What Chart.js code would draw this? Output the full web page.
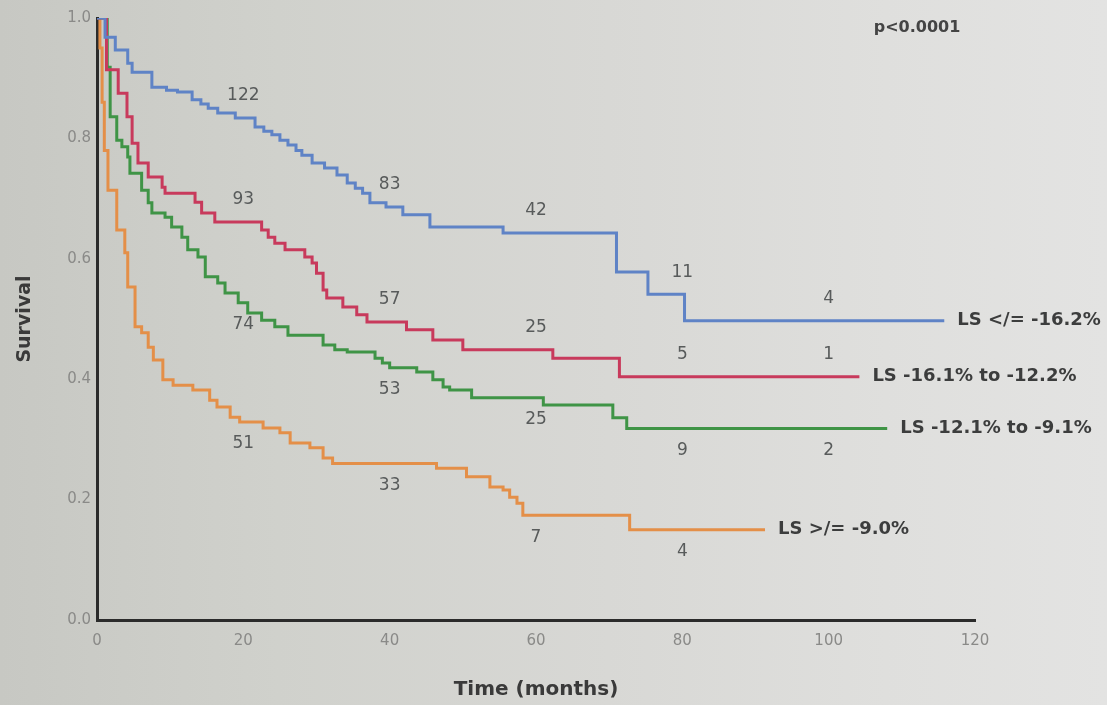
<!DOCTYPE html>
<html>
<head>
<meta charset="utf-8">
<title>Survival by LS group</title>
<script src="https://cdn.jsdelivr.net/npm/chart.js@4/dist/chart.umd.min.js"></script>
<style>
  html, body { margin: 0; padding: 0; }
  body {
    width: 1107px; height: 705px; overflow: hidden;
    background: linear-gradient(90deg, #c7c8c3 0%, #d0d1cc 25%, #d8d8d5 55%, #dfdfdd 80%, #e3e3e2 100%);
  }
  #wrap { position: relative; width: 1107px; height: 705px; }
  canvas { display: block; }
</style>
</head>
<body>
<div id="wrap"><canvas id="km" width="1107" height="705"></canvas></div>
<script>
// Kaplan-Meier step points: time (months) at which survival drops, and the new survival value.
const blueTimes = [0, 1.1, 2.5, 4.2, 4.8, 7.5, 9.5, 11, 13, 14.2, 15.2, 16.5, 18.9, 21.6, 22.8, 23.9, 25, 26.1, 27.2, 28, 29.4, 31.1, 32.8, 34.2, 35.3, 36.3, 37.3, 39.5, 41.8, 45.5, 55.5, 71, 75.3, 80.3, 115.8];
const blueSurv  = [1.0, 0.968, 0.947, 0.925, 0.91, 0.885, 0.88, 0.877, 0.864, 0.857, 0.85, 0.842, 0.834, 0.819, 0.812, 0.806, 0.797, 0.789, 0.78, 0.772, 0.759, 0.751, 0.739, 0.726, 0.717, 0.709, 0.693, 0.686, 0.673, 0.653, 0.643, 0.578, 0.541, 0.497, 0.497];

const redTimes = [0, 1.3, 2.9, 4.1, 4.8, 5.6, 7, 8.9, 9.3, 13.4, 14.3, 16.1, 22.5, 23.4, 24.3, 25.7, 28.4, 29.4, 30, 30.9, 31.4, 33.6, 35.5, 36.9, 42.3, 45.9, 50, 62.3, 71.4, 104.2];
const redSurv  = [1.0, 0.914, 0.875, 0.836, 0.792, 0.759, 0.736, 0.719, 0.709, 0.694, 0.676, 0.661, 0.648, 0.636, 0.626, 0.615, 0.603, 0.593, 0.576, 0.548, 0.535, 0.52, 0.507, 0.495, 0.482, 0.465, 0.449, 0.435, 0.404, 0.404];

const greenTimes = [0, 1.4, 1.8, 2.7, 3.4, 4.2, 4.5, 6.1, 7, 7.5, 9.3, 10.2, 11.6, 12.4, 13.8, 14.8, 16.5, 17.5, 19.3, 20.6, 22.5, 24.3, 26.1, 30.9, 32.5, 34.2, 38, 39, 40, 43.7, 45.9, 47.3, 48.2, 51.2, 61, 70.5, 72.4, 108];
const greenSurv  = [1.0, 0.918, 0.836, 0.797, 0.786, 0.769, 0.742, 0.714, 0.693, 0.676, 0.669, 0.653, 0.636, 0.615, 0.603, 0.57, 0.56, 0.543, 0.527, 0.51, 0.498, 0.487, 0.473, 0.457, 0.449, 0.445, 0.435, 0.427, 0.419, 0.412, 0.399, 0.387, 0.382, 0.369, 0.357, 0.336, 0.318, 0.318];

const orangeTimes = [0, 0.4, 0.7, 1.0, 1.5, 2.7, 3.8, 4.2, 5.2, 6.1, 7, 7.7, 9.0, 10.4, 13.1, 15.4, 16.4, 18.2, 19.5, 22.7, 25, 26.4, 29.1, 30.9, 32.2, 46.4, 50.5, 53.7, 55.5, 56.4, 57.4, 58.2, 72.8, 91.3];
const orangeSurv  = [1.0, 0.95, 0.86, 0.78, 0.714, 0.648, 0.61, 0.553, 0.487, 0.477, 0.453, 0.432, 0.399, 0.39, 0.382, 0.365, 0.354, 0.337, 0.329, 0.319, 0.311, 0.294, 0.286, 0.269, 0.26, 0.252, 0.238, 0.221, 0.216, 0.204, 0.194, 0.174, 0.15, 0.15];

// Number at risk, printed along each curve
const riskTimes  = [20, 40, 60, 80, 100];
const blueRisk   = [122, 83, 42, 11, 4];
const redRisk    = [93, 57, 25, 5, 1];
const greenRisk  = [74, 53, 25, 9, 2];
const orangeRisk = [51, 33, 7, 4];

const groupNames = ['LS </= -16.2%', 'LS -16.1% to -12.2%', 'LS -12.1% to -9.1%', 'LS >/= -9.0%'];
const xTicks = [0, 20, 40, 60, 80, 100, 120];
const yTicks = [0.0, 0.2, 0.4, 0.6, 0.8, 1.0];
const pValueText = 'p<0.0001';

const groups = [
  { name: groupNames[0], times: blueTimes,   surv: blueSurv,   risk: blueRisk,   color: '#5f83c6', riskSide: -1 },
  { name: groupNames[1], times: redTimes,    surv: redSurv,    risk: redRisk,    color: '#c83a5c', riskSide: -1 },
  { name: groupNames[2], times: greenTimes,  surv: greenSurv,  risk: greenRisk,  color: '#3f9446', riskSide: 1 },
  { name: groupNames[3], times: orangeTimes, surv: orangeSurv, risk: orangeRisk, color: '#e48f48', riskSide: 1 }
];

function survAt(g, t) {
  let v = g.surv[0];
  for (let i = 0; i < g.times.length; i++) {
    if (g.times[i] <= t) v = g.surv[i];
  }
  return v;
}

// Text along the curves: numbers at risk, group names at line ends, and the log-rank p value
const kmText = {
  id: 'kmText',
  afterDatasetsDraw(chart) {
    const ctx = chart.ctx;
    const xs = chart.scales.x, ys = chart.scales.y;
    ctx.save();
    ctx.textBaseline = 'middle';

    ctx.font = '17px "DejaVu Sans"';
    ctx.fillStyle = '#585b5b';
    ctx.textAlign = 'center';
    groups.forEach(g => {
      g.risk.forEach((n, i) => {
        const t = riskTimes[i];
        const px = xs.getPixelForValue(t);
        const py = ys.getPixelForValue(survAt(g, t)) + g.riskSide * 22;
        ctx.fillText(String(n), px, py);
      });
    });

    ctx.font = 'bold 18px "DejaVu Sans"';
    ctx.fillStyle = '#3c3d3d';
    ctx.textAlign = 'left';
    groups.forEach(g => {
      const last = g.times.length - 1;
      const px = xs.getPixelForValue(g.times[last]) + 13;
      const py = ys.getPixelForValue(g.surv[last]);
      ctx.fillText(g.name, px, py);
    });

    ctx.font = 'bold 16px "DejaVu Sans"';
    ctx.fillStyle = '#444';
    ctx.textAlign = 'center';
    ctx.fillText(pValueText, 917, 28);
    ctx.restore();
  }
};

new Chart(document.getElementById('km'), {
  type: 'line',
  data: {
    datasets: groups.map(g => ({
      label: g.name,
      data: g.times.map((t, i) => ({ x: t, y: g.surv[i] })),
      borderColor: g.color,
      borderWidth: 3,
      stepped: 'before',
      pointRadius: 0,
      fill: false
    }))
  },
  options: {
    responsive: false,
    animation: false,
    layout: { padding: { top: 18, right: 132, left: 0, bottom: 0 } },
    plugins: { legend: { display: false }, tooltip: { enabled: false } },
    scales: {
      x: {
        type: 'linear',
        min: 0, max: 120,
        afterBuildTicks: s => { s.ticks = xTicks.map(v => ({ value: v })); },
        afterFit: s => { s.height = 85; },
        grid: { display: false, drawTicks: false },
        border: { display: true, color: '#2b2b2b', width: 3 },
        ticks: {
          color: '#8a8a88',
          font: { family: '"DejaVu Sans"', size: 15 },
          padding: 12,
          callback: v => String(v)
        },
        title: {
          display: true,
          text: 'Time (months)',
          color: '#3a3a3a',
          font: { family: '"DejaVu Sans"', size: 20, weight: 'bold' },
          padding: { top: 0, bottom: 3 }
        }
      },
      y: {
        min: 0, max: 1,
        afterBuildTicks: s => { s.ticks = yTicks.map(v => ({ value: v })); },
        afterFit: s => { s.width = 97; },
        grid: { display: false, drawTicks: false },
        border: { display: true, color: '#2b2b2b', width: 3 },
        ticks: {
          color: '#8a8a88',
          font: { family: '"DejaVu Sans"', size: 15 },
          padding: 6,
          callback: v => Number(v).toFixed(1)
        },
        title: {
          display: true,
          text: 'Survival',
          color: '#3a3a3a',
          font: { family: '"DejaVu Sans"', size: 19, weight: 'bold' },
          padding: { top: 14, bottom: 0 }
        }
      }
    }
  },
  plugins: [kmText]
});
</script>
</body>
</html>
